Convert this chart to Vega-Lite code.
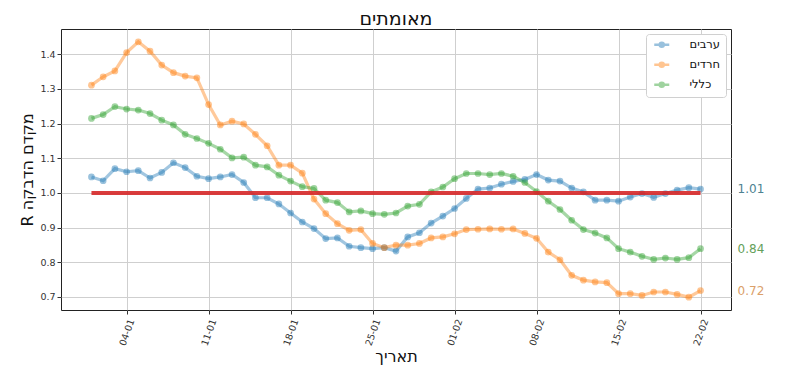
{
  "$schema": "https://vega.github.io/schema/vega-lite/v6.json",
  "width": 670,
  "height": 281,
  "autosize": {"type": "none"},
  "padding": {"left": 61, "top": 29, "right": 69, "bottom": 71},
  "background": "white",
  "config": {
    "font": "DejaVu Sans",
    "view": {"stroke": "#222", "strokeWidth": 1},
    "axis": {
      "domain": false,
      "gridColor": "#cfcfcf",
      "gridWidth": 1,
      "tickColor": "#333",
      "tickSize": 4,
      "labelColor": "#333",
      "labelFont": "DejaVu Sans",
      "labelFontSize": 9.5,
      "titleFont": "DejaVu Sans",
      "titleFontWeight": "normal",
      "titleColor": "#111",
      "titleFontSize": 16
    },
    "title": {"font": "DejaVu Sans", "fontSize": 19, "fontWeight": "normal", "color": "#111"}
  },
  "title": {"text": "מאומתים", "anchor": "middle", "frame": "group", "baseline": "alphabetic", "offset": 4, "dy": 19},
  "datasets": {
    "series": [
      {"date": "2021-01-01", "ערבים": 1.046, "חרדים": 1.311, "כללי": 1.215},
      {"date": "2021-01-02", "ערבים": 1.035, "חרדים": 1.335, "כללי": 1.226},
      {"date": "2021-01-03", "ערבים": 1.070, "חרדים": 1.352, "כללי": 1.249},
      {"date": "2021-01-04", "ערבים": 1.061, "חרדים": 1.405, "כללי": 1.242},
      {"date": "2021-01-05", "ערבים": 1.064, "חרדים": 1.436, "כללי": 1.239},
      {"date": "2021-01-06", "ערבים": 1.043, "חרדים": 1.409, "כללי": 1.229},
      {"date": "2021-01-07", "ערבים": 1.059, "חרדים": 1.369, "כללי": 1.210},
      {"date": "2021-01-08", "ערבים": 1.087, "חרדים": 1.347, "כללי": 1.196},
      {"date": "2021-01-09", "ערבים": 1.073, "חרדים": 1.337, "כללי": 1.169},
      {"date": "2021-01-10", "ערבים": 1.048, "חרדים": 1.332, "כללי": 1.157},
      {"date": "2021-01-11", "ערבים": 1.041, "חרדים": 1.255, "כללי": 1.143},
      {"date": "2021-01-12", "ערבים": 1.046, "חרדים": 1.196, "כללי": 1.126},
      {"date": "2021-01-13", "ערבים": 1.053, "חרדים": 1.207, "כללי": 1.101},
      {"date": "2021-01-14", "ערבים": 1.030, "חרדים": 1.199, "כללי": 1.103},
      {"date": "2021-01-15", "ערבים": 0.986, "חרדים": 1.169, "כללי": 1.080},
      {"date": "2021-01-16", "ערבים": 0.986, "חרדים": 1.136, "כללי": 1.075},
      {"date": "2021-01-17", "ערבים": 0.968, "חרדים": 1.080, "כללי": 1.051},
      {"date": "2021-01-18", "ערבים": 0.942, "חרדים": 1.080, "כללי": 1.034},
      {"date": "2021-01-19", "ערבים": 0.916, "חרדים": 1.057, "כללי": 1.018},
      {"date": "2021-01-20", "ערבים": 0.897, "חרדים": 0.982, "כללי": 1.013},
      {"date": "2021-01-21", "ערבים": 0.868, "חרדים": 0.940, "כללי": 0.979},
      {"date": "2021-01-22", "ערבים": 0.870, "חרדים": 0.911, "כללי": 0.972},
      {"date": "2021-01-23", "ערבים": 0.846, "חרדים": 0.892, "כללי": 0.945},
      {"date": "2021-01-24", "ערבים": 0.842, "חרדים": 0.894, "כללי": 0.948},
      {"date": "2021-01-25", "ערבים": 0.839, "חרדים": 0.854, "כללי": 0.940},
      {"date": "2021-01-26", "ערבים": 0.842, "חרדים": 0.842, "כללי": 0.938},
      {"date": "2021-01-27", "ערבים": 0.832, "חרדים": 0.849, "כללי": 0.942},
      {"date": "2021-01-28", "ערבים": 0.873, "חרדים": 0.849, "כללי": 0.962},
      {"date": "2021-01-29", "ערבים": 0.885, "חרדים": 0.854, "כללי": 0.967},
      {"date": "2021-01-30", "ערבים": 0.913, "חרדים": 0.870, "כללי": 1.003},
      {"date": "2021-01-31", "ערבים": 0.933, "חרדים": 0.873, "כללי": 1.017},
      {"date": "2021-02-01", "ערבים": 0.955, "חרדים": 0.882, "כללי": 1.041},
      {"date": "2021-02-02", "ערבים": 0.984, "חרדים": 0.894, "כללי": 1.056},
      {"date": "2021-02-03", "ערבים": 1.011, "חרדים": 0.895, "כללי": 1.056},
      {"date": "2021-02-04", "ערבים": 1.014, "חרדים": 0.896, "כללי": 1.053},
      {"date": "2021-02-05", "ערבים": 1.025, "חרדים": 0.895, "כללי": 1.056},
      {"date": "2021-02-06", "ערבים": 1.033, "חרדים": 0.896, "כללי": 1.048},
      {"date": "2021-02-07", "ערבים": 1.039, "חרדים": 0.883, "כללי": 1.030},
      {"date": "2021-02-08", "ערבים": 1.053, "חרדים": 0.869, "כללי": 1.004},
      {"date": "2021-02-09", "ערבים": 1.037, "חרדים": 0.829, "כללי": 0.976},
      {"date": "2021-02-10", "ערבים": 1.034, "חרדים": 0.807, "כללי": 0.952},
      {"date": "2021-02-11", "ערבים": 1.014, "חרדים": 0.762, "כללי": 0.921},
      {"date": "2021-02-12", "ערבים": 1.003, "חרדים": 0.748, "כללי": 0.894},
      {"date": "2021-02-13", "ערבים": 0.979, "חרדים": 0.743, "כללי": 0.884},
      {"date": "2021-02-14", "ערבים": 0.979, "חרדים": 0.741, "כללי": 0.870},
      {"date": "2021-02-15", "ערבים": 0.976, "חרדים": 0.709, "כללי": 0.839},
      {"date": "2021-02-16", "ערבים": 0.988, "חרדים": 0.709, "כללי": 0.829},
      {"date": "2021-02-17", "ערבים": 0.998, "חרדים": 0.704, "כללי": 0.817},
      {"date": "2021-02-18", "ערבים": 0.987, "חרדים": 0.714, "כללי": 0.808},
      {"date": "2021-02-19", "ערבים": 0.998, "חרדים": 0.714, "כללי": 0.812},
      {"date": "2021-02-20", "ערבים": 1.008, "חרדים": 0.707, "כללי": 0.808},
      {"date": "2021-02-21", "ערבים": 1.015, "חרדים": 0.699, "כללי": 0.813},
      {"date": "2021-02-22", "ערבים": 1.011, "חרדים": 0.718, "כללי": 0.839}
    ],
    "reference": [
      {"date": "2021-01-01", "value": 1.0},
      {"date": "2021-02-22", "value": 1.0}
    ],
    "endLabels": [
      {"date": "2021-02-22", "series": "ערבים", "value": 1.011, "label": "1.01"},
      {"date": "2021-02-22", "series": "חרדים", "value": 0.718, "label": "0.72"},
      {"date": "2021-02-22", "series": "כללי", "value": 0.839, "label": "0.84"}
    ]
  },
  "encoding": {
    "x": {
      "field": "date",
      "type": "temporal",
      "scale": {
        "type": "utc",
        "domain": [
          {"year": 2020, "month": 12, "date": 29, "hours": 9, "minutes": 36, "utc": true},
          {"year": 2021, "month": 2, "date": 24, "hours": 14, "minutes": 24, "utc": true}
        ]
      },
      "axis": {
        "title": "תאריך",
        "format": "%d-%m",
        "values": [
          {"year": 2021, "month": 1, "date": 4, "utc": true},
          {"year": 2021, "month": 1, "date": 11, "utc": true},
          {"year": 2021, "month": 1, "date": 18, "utc": true},
          {"year": 2021, "month": 1, "date": 25, "utc": true},
          {"year": 2021, "month": 2, "date": 1, "utc": true},
          {"year": 2021, "month": 2, "date": 8, "utc": true},
          {"year": 2021, "month": 2, "date": 15, "utc": true},
          {"year": 2021, "month": 2, "date": 22, "utc": true}
        ],
        "labelAngle": -70,
        "labelAlign": "center",
        "labelBaseline": "middle",
        "labelPadding": 18,
        "labelOverlap": false,
        "labelFlush": false,
        "titlePadding": 2
      }
    },
    "y": {
      "type": "quantitative",
      "scale": {"domain": [0.662, 1.473], "nice": false, "zero": false},
      "axis": {
        "title": "R מקדם הדבקה",
        "values": [0.7, 0.8, 0.9, 1.0, 1.1, 1.2, 1.3, 1.4],
        "format": ".1f",
        "labelPadding": 2,
        "titlePadding": 4
      }
    }
  },
  "layer": [
    {
      "data": {"name": "series"},
      "transform": [{"fold": ["ערבים", "חרדים", "כללי"], "as": ["series", "value"]}],
      "mark": {"type": "line", "strokeWidth": 3.2, "opacity": 0.42},
      "encoding": {
        "y": {"field": "value", "type": "quantitative"},
        "color": {
          "field": "series",
          "type": "nominal",
          "scale": {"domain": ["ערבים", "חרדים", "כללי"], "range": ["#1f77b4", "#ff7f0e", "#2ca02c"]},
          "legend": {
            "title": null,
            "orient": "top-right",
            "offset": 5,
            "labelFont": "DejaVu Sans",
            "labelFontSize": 11.5,
            "labelColor": "#111",
            "labelOffset": 27,
            "symbolType": "M-1,0L5,0M2.8,0A0.8,0.8,0,1,1,1.2,0A0.8,0.8,0,1,1,2.8,0Z",
            "symbolSize": 25,
            "symbolStrokeWidth": 2.5,
            "symbolOpacity": 0.45,
            "fillColor": "white",
            "strokeColor": "#d0d0d0",
            "cornerRadius": 3,
            "padding": 5,
            "rowPadding": 5,
            "encode": {"symbols": {"update": {"fill": {"scale": "color", "field": "value"}, "stroke": {"scale": "color", "field": "value"}}}}
          }
        }
      }
    },
    {
      "data": {"name": "series"},
      "transform": [{"fold": ["ערבים", "חרדים", "כללי"], "as": ["series", "value"]}],
      "mark": {"type": "point", "filled": true, "size": 45, "opacity": 0.45},
      "encoding": {
        "y": {"field": "value", "type": "quantitative"},
        "color": {"field": "series", "type": "nominal"}
      }
    },
    {
      "data": {"name": "reference"},
      "mark": {"type": "line", "color": "#d62728", "strokeWidth": 4, "opacity": 0.9},
      "encoding": {
        "y": {"field": "value", "type": "quantitative"}
      }
    },
    {
      "data": {"name": "endLabels"},
      "mark": {"type": "text", "align": "left", "baseline": "middle", "dx": 37, "fontSize": 12, "font": "DejaVu Sans", "clip": false},
      "encoding": {
        "y": {"field": "value", "type": "quantitative"},
        "text": {"field": "label"},
        "fill": {
          "field": "series",
          "type": "nominal",
          "scale": {"domain": ["ערבים", "חרדים", "כללי"], "range": ["#4d8291", "#dba06a", "#64a05a"]},
          "legend": null
        }
      }
    }
  ]
}
